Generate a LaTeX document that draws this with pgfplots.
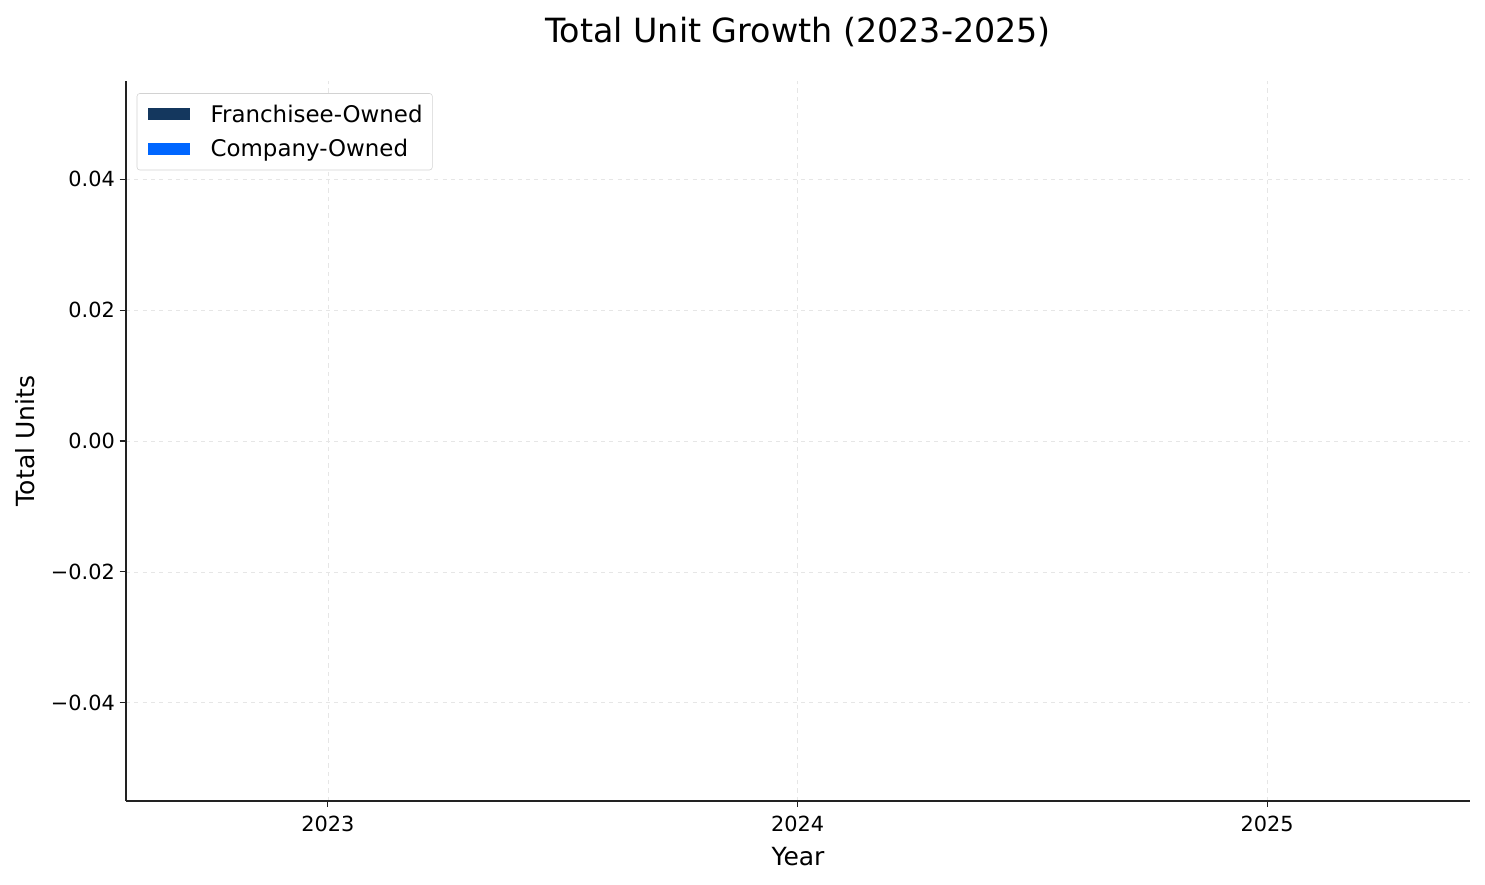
\documentclass[border=0pt]{standalone}
\usepackage{pgfplots}
\pgfplotsset{compat=1.18}
\usepackage{fontspec}
\setmainfont{DejaVu Sans}
\definecolor{franch}{HTML}{14375E}
\definecolor{company}{HTML}{0066FF}
\definecolor{gridc}{HTML}{E6E6E6}
\definecolor{spine}{HTML}{222222}

\begin{document}
\begin{tikzpicture}[x=1pt,y=1pt]
\useasboundingbox (0,0) rectangle (1069.2,636.5);
\begin{axis}[
    at={(90.7pt,59.8pt)}, anchor=south west,
    width=967.7pt, height=518.4pt, scale only axis,
    ybar stacked, bar width=0.5,
    xmin=-0.43, xmax=2.432,
    ymin=-0.055, ymax=0.055,
    scaled y ticks=false,
    axis x line*=bottom, axis y line*=left,
    axis line style={line width=0.8pt, spine, -},
    xtick={0,1,2}, xticklabels={2023,2024,2025},
    ytick={-0.04,-0.02,0,0.02,0.04},
    yticklabels={−0.04,−0.02,0.00,0.02,0.04},
    tick align=outside, major tick length=4.5pt,
    tick style={line width=0.8pt, spine},
    ticklabel style={font=\fontsize{15}{18}\selectfont},
    xticklabel style={yshift=-3pt},
    grid=major,
    major grid style={dashed, line width=0.5pt, gridc},
    xlabel={Year}, ylabel={Total Units},
    label style={font=\fontsize{18}{21}\selectfont},
    xlabel style={at={(0.5,0)}, anchor=base, yshift=-46.5pt},
    ylabel style={at={(0,0.5)}, anchor=base, rotate=0, yshift=66pt},
    title={Total Unit Growth (2023-2025)},
    title style={font=\fontsize{24}{28}\selectfont, at={(0.5,1)}, anchor=base, yshift=21.8pt},
    legend style={at={(0.008,0.983)}, anchor=north west, draw=gray!35, rounded corners=2pt,
        font=\fontsize{16.5}{19}\selectfont, row sep=7pt, inner xsep=5pt, inner ysep=6pt},
    legend cell align=left,
    legend image code/.code={\fill[#1, sharp corners] (3pt,-4.3pt) rectangle (33pt,4.3pt);
        \path[draw=none, fill=none] (0pt,0pt) rectangle (46pt,0.1pt);},
]
\addplot[fill=franch, draw=none] coordinates {(0,0) (1,0) (2,0)};
\addplot[fill=company, draw=none] coordinates {(0,0) (1,0) (2,0)};
\legend{Franchisee-Owned, Company-Owned}
\end{axis}
\end{tikzpicture}
\end{document}
